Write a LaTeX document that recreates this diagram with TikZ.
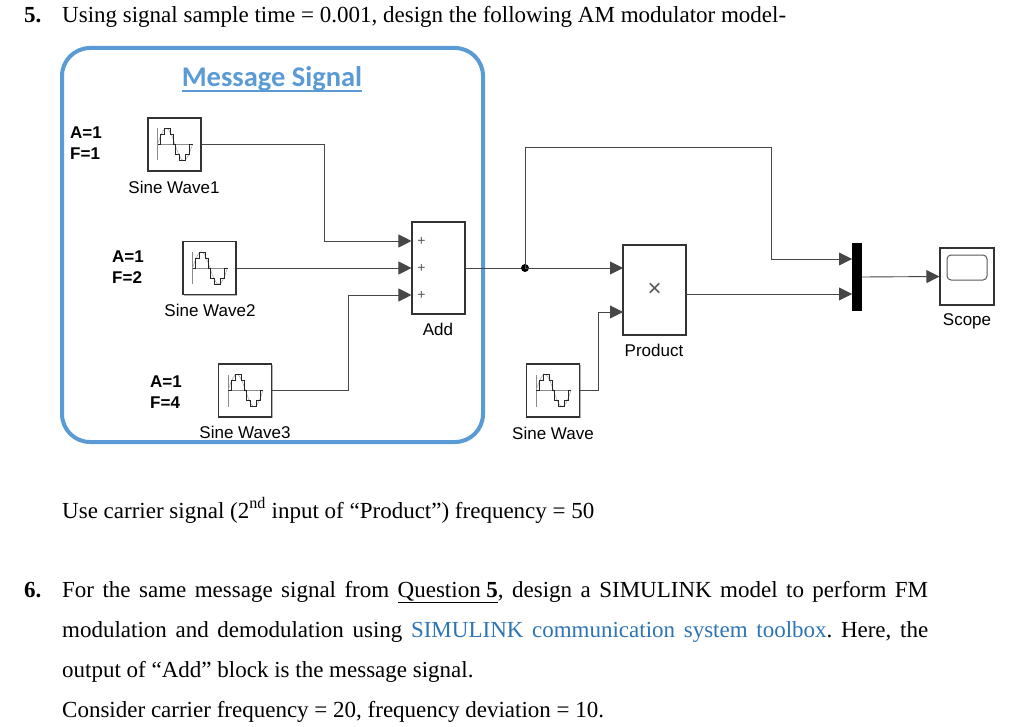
\documentclass[tikz,border=0pt]{standalone}
\usepackage{fontspec}
\setmainfont{Liberation Serif}
\newfontfamily\arialf{Liberation Sans}
\newfontfamily\calib{Carlito}
\usetikzlibrary{arrows.meta,shadows,calc}
\definecolor{boxblue}{RGB}{91,155,213}
\definecolor{linkblue}{RGB}{46,116,181}
\definecolor{wirec}{RGB}{70,70,70}
\frenchspacing
\tikzset{
  blk/.style={draw=black!80, fill=white, line width=1.1pt, inner sep=0pt,
    drop shadow={shadow xshift=1.3pt, shadow yshift=-1.3pt, fill=black!30, opacity=1}},
  sinebk/.style={blk, minimum width=53pt, minimum height=53pt},
  lbl/.style={font=\arialf\fontsize{17}{20}\selectfont, inner sep=0pt},
  param/.style={font=\arialf\bfseries\fontsize{17}{21}\selectfont, align=left, anchor=west, inner sep=0pt},
  wire/.style={draw=wirec, line width=0.9pt},
  sig/.style={wire, -{Triangle[length=13pt,width=13pt]}},
  plussign/.style={font=\arialf\fontsize{14}{14}\selectfont, text=black!65, inner sep=0pt},
  txt/.style={font=\fontsize{23}{27}\selectfont, anchor=base west, inner sep=0pt},
  sineicon/.pic={
    \draw[black!45, line width=0.6pt] (-17,-16) -- (-17,16);
    \draw[black!45, line width=0.6pt] (-17,0) -- (18,0);
    \draw[black!35, line width=0.5pt, domain=-17:18, samples=40] plot (\x, {-16*sin((\x+17)/35*360)});
    \draw[black!85, line width=0.8pt] (-17,0) -- (-14,0) -- (-14,-10) -- (-10,-10) -- (-10,-16) -- (-4,-16) -- (-4,-10) -- (-1,-10) -- (-1,0) -- (1,0) -- (1,10) -- (5,10) -- (5,16) -- (11,16) -- (11,10) -- (15,10) -- (15,0) -- (18,0);
  }
}
\begin{document}
\begin{tikzpicture}[x=1pt,y=-1pt]
\fill[white] (0,0) rectangle (1024,727);
\useasboundingbox (0,0) rectangle (1024,727);

% message signal group box
\draw[boxblue, line width=4pt, rounded corners=28pt] (62,48) rectangle (483,442);
\node[font=\calib\bfseries\fontsize{28.5}{32}\selectfont, text=boxblue, inner sep=0pt, anchor=base] (mtitle) at (272,87) {Message Signal};
\draw[boxblue, line width=1.5pt] (mtitle.west|-0,91) -- (mtitle.east|-0,91);

% sine wave sources
\node[sinebk] (sw1) at (174.5,144.5) {};
\pic at (sw1.center) {sineicon};
\node[lbl] (sw1l) at (174,187) {Sine Wave1};
\node[param] (p1) at (70,143) {A=1\\F=1};

\node[sinebk] (sw2) at (209.5,268) {};
\pic at (sw2.center) {sineicon};
\node[lbl] (sw2l) at (210,310) {Sine Wave2};
\node[param] (p2) at (112,267.5) {A=1\\F=2};

\node[sinebk] (sw3) at (245,390.5) {};
\pic at (sw3.center) {sineicon};
\node[lbl] (sw3l) at (245,432) {Sine Wave3};
\node[param] (p3) at (150,392) {A=1\\F=4};

% add block
\node[blk, minimum width=53pt, minimum height=92pt] (add) at (438.5,268) {};
\node[lbl] (addl) at (438,329) {Add};
\coordinate (addin1) at ($(add.west)+(0,-27)$);
\coordinate (addin2) at (add.west);
\coordinate (addin3) at ($(add.west)+(0,27)$);
\node[plussign] (ap1) at ($(addin1)+(10,0)$) {+};
\node[plussign] (ap2) at ($(addin2)+(10,0)$) {+};
\node[plussign] (ap3) at ($(addin3)+(10,0)$) {+};

% carrier
\node[sinebk] (sw) at (553,390.5) {};
\pic at (sw.center) {sineicon};
\node[lbl] (swl) at (553,433) {Sine Wave};

% product
\node[blk, minimum width=63pt, minimum height=90pt] (prod) at (654.5,290) {};
\node[font=\arialf\fontsize{24}{24}\selectfont, text=black!65, inner sep=0pt] (times) at (prod.center) {×};
\node[lbl] (prodl) at (654,350) {Product};
\coordinate (prodin1) at (623,268);
\coordinate (prodin2) at (623,312);
\coordinate (prodout) at (686,294);

% mux
\node[fill=black, minimum width=10pt, minimum height=68pt, inner sep=0pt] (mux) at (857,277) {};
\coordinate (muxin1) at (852,259);
\coordinate (muxin2) at (852,294);

% scope
\node[blk, minimum width=54pt, minimum height=57pt] (scope) at (967,276.5) {};
\node[draw=black!65, line width=1pt, rounded corners=4pt, minimum width=40pt, minimum height=25pt, inner sep=0pt] (screen) at (967,267.5) {};
\node[lbl] (scopel) at (967,321) {Scope};

% connectors
\coordinate (j1) at (324,241);
\coordinate (j3) at (348,295);
\coordinate (j4) at (598,312);
\coordinate (br) at (525,268);
\coordinate (topr) at (771,147);
\draw[sig] (sw1.east) -| (j1) -- (addin1);
\draw[sig] (sw2.east) -- (addin2);
\draw[sig] (sw3.east) -| (j3) -- (addin3);
\draw[wire] (add.east) -- (br);
\fill[black] (br) circle (4pt);
\draw[sig] (br) -- (prodin1);
\draw[sig] (br) |- (topr) |- (muxin1);
\draw[sig] (sw.east) -| (j4) -- (prodin2);
\draw[sig] (prodout) -- (muxin2);
\draw[sig] (mux.east) -- (scope.west);

% text
\node[txt, font=\bfseries\fontsize{23}{27}\selectfont] (q5n) at (24,23) {5.};
\node[txt] (q5) at (62,23) {Using signal sample time = 0.001, design the following AM modulator model-};
\node[txt] (carrier) at (62,518) {Use carrier signal (2\textsuperscript{nd} input of “Product”) frequency = 50};

\node[txt, font=\bfseries\fontsize{23}{27}\selectfont] (q6n) at (24,597) {6.};
\node[txt] (q6a) at (62,597) {\makebox[866pt][s]{For the same message signal from \underline{Question \textbf{5}}, design a SIMULINK model to perform FM}};
\node[txt] (q6b) at (62,637) {\makebox[866pt][s]{modulation and demodulation using \textcolor{linkblue}{SIMULINK communication system toolbox}. Here, the}};
\node[txt] (q6c) at (62,677) {output of “Add” block is the message signal.};
\node[txt] (q6d) at (62,717) {Consider carrier frequency = 20, frequency deviation = 10.};
\end{tikzpicture}
\end{document}
